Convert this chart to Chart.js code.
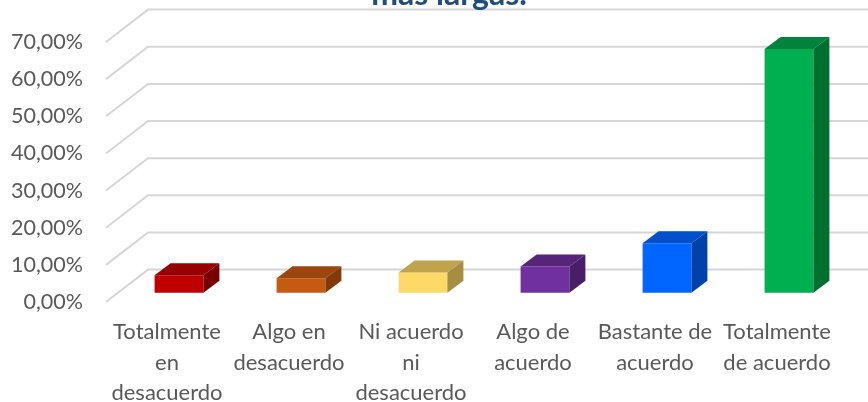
<!DOCTYPE html>
<html>
<head>
<meta charset="utf-8">
<script src="https://cdn.jsdelivr.net/npm/chart.js@4"></script>
<style>
  body { margin: 0; background: #fff; }
  canvas { display: block; }
</style>
</head>
<body>
<canvas id="chart" width="868" height="402"></canvas>
<script>
const categories = [
  ['Totalmente', 'en', 'desacuerdo'],
  ['Algo en', 'desacuerdo'],
  ['Ni acuerdo', 'ni', 'desacuerdo'],
  ['Algo de', 'acuerdo'],
  ['Bastante de', 'acuerdo'],
  ['Totalmente', 'de acuerdo']
];
const percentages = [4.69, 3.91, 5.47, 7.03, 13.28, 65.63];
const frontColors = ['#C00000', '#C55A11', '#FFD966', '#7030A0', '#0066FF', '#00B050'];
const topColors = ['#960000', '#9A460D', '#BFA34D', '#562478', '#0050CC', '#00843C'];
const sideColors = ['#780000', '#823A0B', '#A68D42', '#481E66', '#0042AA', '#00702F'];
const tickValues = [0, 10, 20, 30, 40, 50, 60, 70];
const titleText = 'más largas.';

// fake 3d: back wall offset, bar plane offset and bar depth
const wall = { dx: 42, dy: 32.4 };
const shift = { dx: 12, dy: 9.3 };
const depth = { dx: 16, dy: 12 };

const fake3d = {
  id: 'fake3d',
  beforeDatasetsDraw(chart) {
    const { ctx, chartArea, scales } = chart;
    ctx.save();
    ctx.strokeStyle = '#d6d6d6';
    ctx.lineWidth = 2;
    tickValues.forEach(v => {
      const y = scales.y.getPixelForValue(v);
      ctx.beginPath();
      ctx.moveTo(chartArea.left, y);
      ctx.lineTo(chartArea.left + wall.dx, y - wall.dy);
      ctx.lineTo(chart.width, y - wall.dy);
      ctx.stroke();
    });
    ctx.restore();
    ctx.save();
    ctx.translate(shift.dx, -shift.dy);
  },
  afterDatasetsDraw(chart) {
    const { ctx } = chart;
    const meta = chart.getDatasetMeta(0);
    meta.data.forEach((bar, i) => {
      const left = bar.x - bar.width / 2;
      const right = bar.x + bar.width / 2;
      const top = bar.y;
      const base = bar.base;
      // top face
      ctx.fillStyle = topColors[i];
      ctx.beginPath();
      ctx.moveTo(left, top);
      ctx.lineTo(left + depth.dx, top - depth.dy);
      ctx.lineTo(right + depth.dx, top - depth.dy);
      ctx.lineTo(right, top);
      ctx.closePath();
      ctx.fill();
      // side face
      ctx.fillStyle = sideColors[i];
      ctx.beginPath();
      ctx.moveTo(right, top);
      ctx.lineTo(right + depth.dx, top - depth.dy);
      ctx.lineTo(right + depth.dx, base - depth.dy);
      ctx.lineTo(right, base);
      ctx.closePath();
      ctx.fill();
    });
    ctx.restore();
  },
  afterDraw(chart) {
    const { ctx } = chart;
    ctx.save();
    ctx.font = 'bold 32px Lato';
    ctx.fillStyle = '#1F4E79';
    ctx.textAlign = 'center';
    ctx.textBaseline = 'alphabetic';
    ctx.fillText(titleText, 449, 4.5);
    ctx.restore();
  }
};

const ctx = document.getElementById('chart').getContext('2d');

new Chart(ctx, {
  type: 'bar',
  data: {
    labels: categories,
    datasets: [{
      data: percentages,
      backgroundColor: frontColors,
      borderWidth: 0,
      categoryPercentage: 1,
      barPercentage: 0.4,
      clip: false
    }]
  },
  options: {
    responsive: false,
    animation: false,
    layout: { padding: { top: 42, right: 30, left: 0, bottom: 0 } },
    plugins: {
      legend: { display: false },
      title: { display: false },
      tooltip: { enabled: false }
    },
    scales: {
      x: {
        grid: { display: false, drawTicks: false },
        border: { display: false },
        ticks: {
          color: '#595959',
          font: { family: 'Lato', size: 22, lineHeight: 1.38 },
          padding: 15,
          maxRotation: 0,
          autoSkip: false
        },
        afterFit(scale) { scale.height = 100; }
      },
      y: {
        min: 0,
        max: 70,
        grid: { display: false, drawTicks: false },
        border: { display: false },
        afterBuildTicks(scale) {
          scale.ticks = tickValues.map(v => ({ value: v }));
        },
        ticks: {
          color: '#595959',
          font: { family: 'Lato', size: 21.5 },
          padding: 23,
          callback: v => v.toFixed(2).replace('.', ',') + '%'
        },
        afterFit(scale) { scale.width = 106; }
      }
    }
  },
  plugins: [fake3d]
});
</script>
</body>
</html>
